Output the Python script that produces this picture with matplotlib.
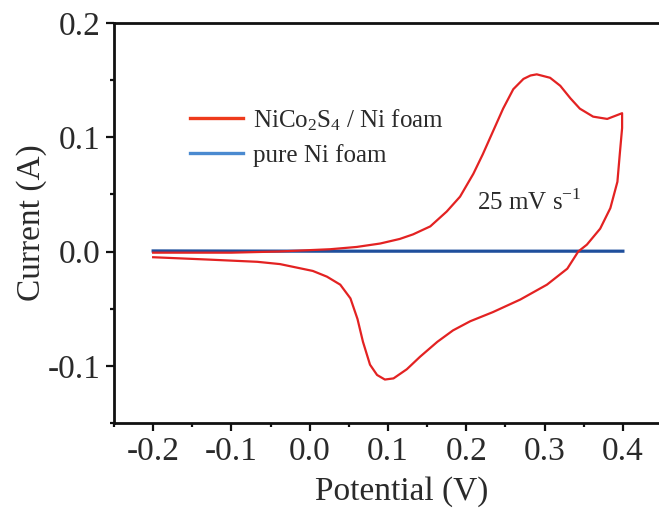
import matplotlib
matplotlib.use("Agg")
import matplotlib.pyplot as plt
from matplotlib.lines import Line2D
from matplotlib.ticker import MultipleLocator

# CV curve of NiCo2S4 / Ni foam (anodic scan then cathodic return)
cv_potential = [-0.200, -0.150, -0.100, -0.040, 0.026, 0.060, 0.090, 0.115, 0.132, 0.154,
                0.175, 0.192, 0.209, 0.221, 0.234, 0.247, 0.260, 0.273, 0.282, 0.290,
                0.307, 0.320, 0.333, 0.345, 0.362, 0.380, 0.399,
                0.399, 0.396, 0.393, 0.384, 0.371, 0.354, 0.343, 0.329, 0.303, 0.269,
                0.234, 0.205, 0.183, 0.163, 0.141, 0.124, 0.107, 0.096, 0.086, 0.077,
                0.068, 0.061, 0.052, 0.039, 0.022, 0.004, -0.038, -0.067, -0.131, -0.200]
cv_current = [-0.001, -0.001, -0.001, 0.000, 0.002, 0.004, 0.007, 0.011, 0.015, 0.022,
              0.035, 0.048, 0.068, 0.085, 0.105, 0.125, 0.142, 0.151, 0.154, 0.155,
              0.152, 0.145, 0.134, 0.125, 0.118, 0.116, 0.121,
              0.108, 0.085, 0.061, 0.038, 0.020, 0.006, 0.000, -0.015, -0.029, -0.042,
              -0.053, -0.061, -0.069, -0.079, -0.092, -0.103, -0.111, -0.112, -0.108, -0.099,
              -0.079, -0.059, -0.041, -0.029, -0.022, -0.017, -0.011, -0.009, -0.007, -0.005]

# bare Ni foam, essentially flat
ni_potential = [-0.200, 0.000, 0.200, 0.400]
ni_current = [0.0005, 0.0003, 0.0003, 0.0003]

labels = [r"NiCo$\mathregular{_2}$S$\mathregular{_4}$ / Ni foam", "pure Ni foam"]

plt.rcParams['font.family'] = ['Liberation Serif', 'DejaVu Serif']
plt.rcParams['mathtext.fontset'] = 'custom'
plt.rcParams['mathtext.rm'] = 'Liberation Serif'

fig = plt.figure(figsize=(6.59, 5.09), dpi=100)
# the axes run past the right edge of the figure, as in the cropped original
ax = fig.add_axes([0.173, 0.169, 0.891, 0.786])

ax.plot(ni_potential, ni_current, color="#1f4f9c", lw=2.3)
ax.plot(cv_potential, cv_current, color="#e32222", lw=1.6, solid_joinstyle="round")

ax.set_xlim(-0.25, 0.5)
ax.set_ylim(-0.15, 0.2)
ax.xaxis.set_minor_locator(MultipleLocator(0.05))
ax.yaxis.set_minor_locator(MultipleLocator(0.05))
ax.set_xticks([-0.2, -0.1, 0.0, 0.1, 0.2, 0.3, 0.4])
ax.set_xticklabels(["-0.2", "-0.1", "0.0", "0.1", "0.2", "0.3", "0.4"])
ax.set_yticks([-0.1, 0.0, 0.1, 0.2])
ax.set_yticklabels(["-0.1", "0.0", "0.1", "0.2"])

ax.tick_params(which="major", direction="out", length=5.5, width=1.6, labelsize=24,
               pad=4, colors="#111111", labelcolor="#2a2a2a")
ax.tick_params(which="minor", direction="out", length=3, width=1.6, colors="#111111")
for s in ax.spines.values():
    s.set_linewidth(2.0)
    s.set_color("#111111")
ax.spines["right"].set_visible(False)

ax.set_xlabel("Potential (V)", fontsize=24, color="#2a2a2a", labelpad=7, x=0.49)
ax.set_ylabel("Current (A)", fontsize=24, color="#2a2a2a", labelpad=1)

handles = [Line2D([], [], color="#ee3a1c", lw=2.4), Line2D([], [], color="#4a8ad0", lw=2.4)]
ax.legend(handles, labels, loc="upper left", bbox_to_anchor=(0.13, 0.79), frameon=False,
          fontsize=18, borderpad=0, borderaxespad=0, handlelength=2.1, handletextpad=0.4,
          labelspacing=0.45, labelcolor="#2a2a2a")

ax.text(0.214, 0.043, r"25 mV s$^{\mathregular{-1}}$", fontsize=18, color="#2a2a2a",
        ha="left", va="center")

fig.savefig("out.png", dpi=100)
